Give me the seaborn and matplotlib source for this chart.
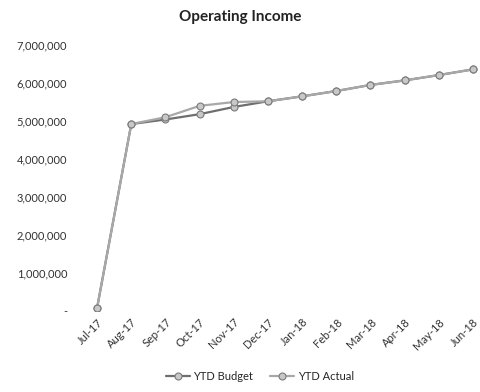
import matplotlib
matplotlib.use('Agg')

import matplotlib.pyplot as plt
import matplotlib.ticker as mticker
import pandas as pd
import seaborn as sns

months = ["Jul-17", "Aug-17", "Sep-17", "Oct-17", "Nov-17", "Dec-17",
          "Jan-18", "Feb-18", "Mar-18", "Apr-18", "May-18", "Jun-18"]
ytd_budget = [80000, 4920000, 5040000, 5180000, 5370000, 5520000,
              5650000, 5790000, 5950000, 6070000, 6210000, 6360000]
ytd_actual = [80000, 4920000, 5100000, 5400000, 5500000, 5520000,
              5650000, 5790000, 5950000, 6070000, 6210000, 6360000]

df = pd.concat([
    pd.DataFrame({"month": months, "value": ytd_budget, "series": "YTD Budget"}),
    pd.DataFrame({"month": months, "value": ytd_actual, "series": "YTD Actual"}),
])
df["pos"] = df["month"].map({m: i for i, m in enumerate(months)})

sns.set_style("white")
plt.rcParams['font.family'] = ['Lato', 'DejaVu Sans']

fig = plt.figure(figsize=(4.81, 3.92), dpi=100)
ax = fig.add_axes([0.177, 0.207, 0.817, 0.678])

palette = {"YTD Budget": "#6e6e6e", "YTD Actual": "#a8a8a8"}
sns.lineplot(data=df, x="pos", y="value", hue="series", style="series",
             markers={"YTD Budget": "o", "YTD Actual": "o"},
             dashes=False, palette=palette, linewidth=1.6,
             markersize=5, markerfacecolor="#c8c8c8", markeredgecolor="#7a7a7a",
             markeredgewidth=0.8, ax=ax, legend=True)

ax.set_xlim(-0.35, 11.15)
ax.set_ylim(0, 7000000)
ax.set_yticks(range(0, 7000001, 1000000))
ax.yaxis.set_major_formatter(mticker.FuncFormatter(
    lambda v, p: "-" if v == 0 else f"{v:,.0f}"))
ax.set_xticks(range(len(months)))
ax.set_xticklabels(months, rotation=45, ha="right", rotation_mode="anchor")
ax.tick_params(axis="y", length=0, pad=13, labelsize=8, labelcolor="#333333")
ax.tick_params(axis="x", length=0, pad=4, labelsize=8, labelcolor="#333333")
ax.set_xlabel("")
ax.set_ylabel("")
for s in ax.spines.values():
    s.set_visible(False)

fig.text(0.5, 0.956, "Operating Income", ha="center", va="center",
         fontsize=11, fontweight="bold", color="#222222")

handles, labels = ax.get_legend_handles_labels()
ax.get_legend().remove()
fig.legend(handles, labels, loc="center", bbox_to_anchor=(0.54, 0.04),
           ncol=2, frameon=False, fontsize=8, handlelength=2.2,
           columnspacing=1.5, handletextpad=0.3)

fig.savefig("out.png", dpi=100)
